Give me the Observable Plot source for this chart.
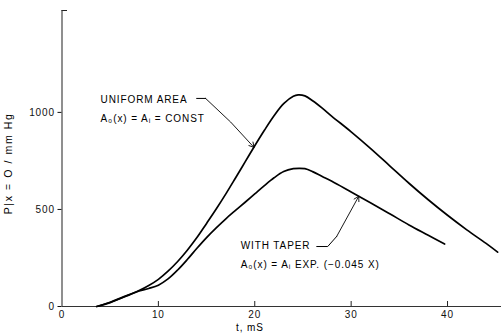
<!DOCTYPE html>
<html>
<head>
<meta charset="utf-8">
<script src="https://cdn.jsdelivr.net/npm/d3@7"></script>
<script src="https://cdn.jsdelivr.net/npm/@observablehq/plot@0.6"></script>
<style>
  html, body { margin: 0; padding: 0; background: #fff; }
  svg text { letter-spacing: 0.9px; }
  svg text.ylab { letter-spacing: 1.6px; }
</style>
</head>
<body>
<div id="chart"></div>
<script>
// Series: pressure at x = 0 (mm Hg) vs time t (ms)
const tUniform = [3.6, 5, 6, 7, 8, 9, 10, 11, 12, 13, 14, 15, 16, 17, 18, 19, 20, 21, 22, 23, 24, 24.5, 25.2, 26, 27, 28, 30, 32, 34, 36, 38, 40, 42, 44, 45.2];
const pUniform = [0, 22, 42, 62, 82, 108, 140, 182, 232, 290, 355, 428, 502, 580, 662, 745, 828, 908, 983, 1045, 1083, 1090, 1085, 1060, 1022, 980, 900, 815, 725, 635, 550, 470, 395, 325, 280];
const tTaper = [3.6, 5, 6, 7, 8, 9, 10, 11, 12, 13, 14, 15, 16, 17, 18, 19, 20, 21, 22, 23, 24, 24.6, 25.2, 26, 27, 28, 30, 32, 34, 36, 38, 39.7];
const pTaper = [0, 20, 40, 60, 80, 93, 110, 142, 188, 242, 300, 355, 405, 452, 495, 537, 580, 623, 663, 695, 710, 712, 710, 695, 670, 645, 590, 535, 478, 420, 367, 322];

// Axis ticks
const xTicks = [0, 10, 20, 30, 40];
const yTicks = [0, 500, 1000];

// Texts
const xLabel = "t, mS";
const yLabel = "P|x = O / mm Hg";
const uniformLines = ["UNIFORM AREA", "A\u2080(x) = A\u1d62 = CONST"];
const taperLines = ["WITH TAPER", "A\u2080(x) = A\u1d62 EXP. (\u22120.045 X)"];

// Annotation anchors (data units: t, P)
const uniformTextT = 4.0, uniformTextP = [1066, 969];
const taperTextT = 18.54, taperTextP = [314, 216];
const uniformLeaderT = [13.97, 14.9], uniformLeaderP = [1072, 1072];
const uniformArrow = {x1: 14.9, y1: 1072, x2: 19.92, y2: 820};
const taperLeaderT = [26.43, 27.57, 28.5], taperLeaderP = [309, 309, 361];
const taperArrow = {x1: 28.5, y1: 361, x2: 30.79, y2: 568};
const yLabelP = 475;

const uniform = tUniform.map((t, i) => ({t, p: pUniform[i]}));
const taper = tTaper.map((t, i) => ({t, p: pTaper[i]}));

const font = "Liberation Sans, Arial, sans-serif";

const chart = Plot.plot({
  width: 501,
  height: 336,
  marginLeft: 61.5,
  marginRight: 0,
  marginTop: 10,
  marginBottom: 30,
  style: {fontFamily: font, fontSize: "10px", color: "#111", background: "#fff"},
  x: {domain: [0, 45.6]},
  y: {domain: [0, 1525]},
  marks: [
    Plot.axisX({ticks: xTicks, tickSize: 0, tickPadding: 4, label: null, fontSize: 10}),
    Plot.tickX(xTicks.slice(1), {x: d => d, insetTop: 291, stroke: "#222"}),
    Plot.axisY({ticks: yTicks, tickSize: 4, tickPadding: 3, label: null, fontSize: 10, tickFormat: d3.format("d")}),
    Plot.tickY([1525], {y: d => d, insetRight: 434, stroke: "#222"}),
    Plot.ruleX([0], {stroke: "#333", strokeWidth: 1.1}),
    Plot.ruleY([0], {stroke: "#333", strokeWidth: 1.1}),
    Plot.line(uniform, {x: "t", y: "p", curve: "catmull-rom", stroke: "#000", strokeWidth: 1.7}),
    Plot.line(taper, {x: "t", y: "p", curve: "catmull-rom", stroke: "#000", strokeWidth: 1.7}),
    Plot.line(uniformLeaderT.map((t, i) => ({t, p: uniformLeaderP[i]})), {x: "t", y: "p", stroke: "#000", strokeWidth: 1}),
    Plot.arrow([uniformArrow], {x1: "x1", y1: "y1", x2: "x2", y2: "y2", stroke: "#000", strokeWidth: 0.9, headLength: 9, bend: 4}),
    Plot.line(taperLeaderT.map((t, i) => ({t, p: taperLeaderP[i]})), {x: "t", y: "p", stroke: "#000", strokeWidth: 1}),
    Plot.arrow([taperArrow], {x1: "x1", y1: "y1", x2: "x2", y2: "y2", stroke: "#000", strokeWidth: 0.9, headLength: 9}),
    Plot.text(uniformLines, {x: uniformTextT, y: (d, i) => uniformTextP[i], text: d => d, textAnchor: "start", fontSize: 10, fill: "#000"}),
    Plot.text(taperLines, {x: taperTextT, y: (d, i) => taperTextP[i], text: d => d, textAnchor: "start", fontSize: 10, fill: "#000"}),
    Plot.text([xLabel], {x: 19.5, y: 0, dy: 21, text: d => d, fontSize: 10, fill: "#000"}),
    Plot.text([yLabel], {frameAnchor: "left", y: yLabelP, dx: -53, rotate: -90, text: d => d, fontSize: 10.5, fill: "#000"})
  ]
});
d3.select(chart).selectAll("text").filter(function() { return this.textContent === yLabel; }).attr("class", "ylab");
document.getElementById("chart").appendChild(chart);
</script>
</body>
</html>
